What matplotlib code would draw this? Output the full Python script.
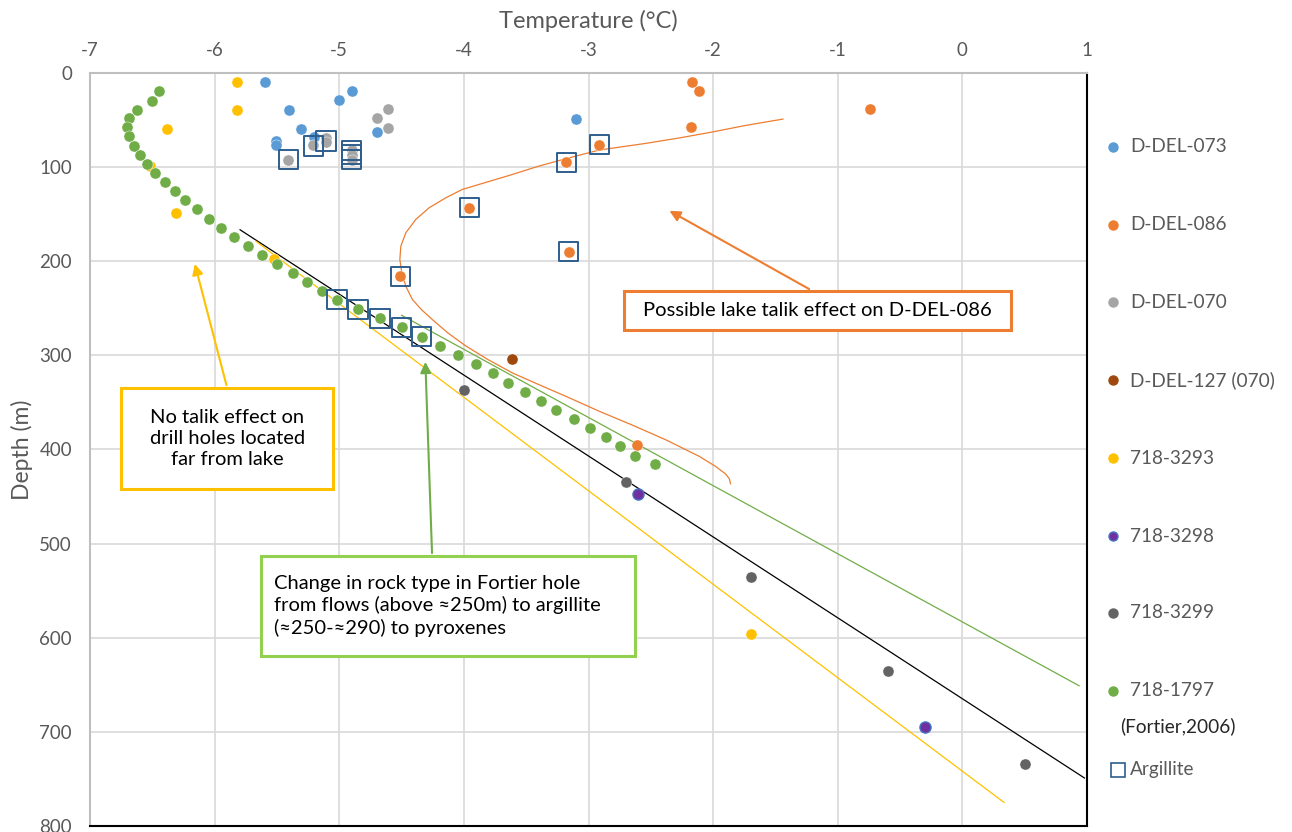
import matplotlib
matplotlib.use('Agg')
import matplotlib.pyplot as plt
from matplotlib.patches import Rectangle
from matplotlib.lines import Line2D

plt.rcParams['font.family'] = ['Lato', 'DejaVu Sans']
plt.rcParams['axes.unicode_minus'] = False

# ── data ─────────────────────────────────────────────────────────────────────
d073_t = [-5.6, -5.4, -5.31, -5.2, -5.51, -5.51, -5.0, -4.9, -4.7, -3.1]
d073_d = [10, 39, 59, 68, 72, 77, 29, 19.5, 63, 49]

d086_t = [-2.17, -2.11, -2.18, -0.74, -2.915, -3.18, -3.956, -3.16, -4.51, -2.61]
d086_d = [9.5, 19.5, 57, 38, 76, 95, 143, 190, 216, 395]

d070_t = [-5.41, -5.21, -5.11, -5.11, -4.9, -4.9, -4.9, -4.7, -4.61, -4.61]
d070_d = [92, 77, 69.5, 73, 82, 87, 92, 48, 38, 58]

d127_t = [-3.61]
d127_d = [304]

h3293_t = [-5.82, -5.82, -6.38, -6.52, -6.31, -5.52, -1.70]
h3293_d = [10, 39.6, 59.5, 99, 149, 198, 596]

h3298_t = [-2.60, -0.30]
h3298_d = [447, 695]

h3299_t = [-4.0, -2.70, -1.70, -0.60, 0.50]
h3299_d = [336.5, 435, 535, 635, 734]

h1797_t = [-6.449, -6.505, -6.62, -6.687, -6.706, -6.687, -6.649, -6.60, -6.54,
           -6.478, -6.40, -6.32, -6.238, -6.144, -6.045, -5.949, -5.847, -5.73,
           -5.62, -5.50, -5.373, -5.26, -5.14, -5.018, -4.85, -4.673, -4.50,
           -4.338, -4.194, -4.047, -3.90, -3.766, -3.648, -3.512, -3.384,
           -3.258, -3.12, -2.987, -2.856, -2.746, -2.629, -2.47]
h1797_d = [19.5, 29.4, 39, 48.2, 57.8, 67.3, 77.3, 87.2, 96.4, 106.4, 116, 125.5,
           135.4, 145, 154.9, 164.5, 174, 184, 193.6, 203, 212.7, 222.3, 231.5,
           240.7, 251, 260.6, 270, 280, 290, 299.6, 309.5, 319, 329, 338.6,
           348.2, 357.8, 367.7, 377.3, 387.2, 396.8, 406.4, 415.6]

argil_t = [-5.41, -5.21, -5.106, -4.9, -4.9, -4.9, -2.915, -3.18, -3.956, -3.16,
           -4.51, -5.018, -4.85, -4.673, -4.5, -4.338]
argil_d = [92, 77.6, 72.3, 82, 87, 92, 76, 95, 143, 190, 216, 240.7, 251,
           260.6, 270, 280]

# trend lines (end points) and the curved D-DEL-086 trend
trend_black_t = [-5.796, 0.98]
trend_black_d = [166.6, 749]
trend_yellow_t = [-5.67, 0.335]
trend_yellow_d = [178.7, 775]
trend_green_t = [-4.50, 0.937]
trend_green_d = [257.4, 651]
curve086_t = [-1.44, -1.75, -2.006, -2.27, -2.54, -2.915, -3.182, -3.40, -3.61,
              -3.878, -4.012, -4.145, -4.279, -4.386, -4.466, -4.506, -4.514,
              -4.498, -4.466, -4.413, -4.34, -4.253, -4.13, -3.985, -3.80,
              -3.61, -3.40, -3.18, -2.91, -2.65, -2.38, -2.11, -1.98, -1.90,
              -1.87, -1.86]
curve086_d = [49, 56, 62.7, 69, 74.8, 81.9, 91.1, 99, 107.8, 118.4, 123.7,
              132.6, 143.2, 155.6, 169.8, 184, 198.2, 212.3, 226.6, 240.7,
              251.5, 262, 276, 290, 305, 318.7, 331, 343.6, 359.6, 374, 389.7,
              407.4, 418, 426, 431, 436.5]

# ── colours ──────────────────────────────────────────────────────────────────
BLUE = '#5B9BD5'
ORANGE = '#ED7D31'
GRAY = '#A5A5A5'
BROWN = '#9E480E'
YELLOW = '#FFC000'
PURPLE = '#7030A0'
DGRAY = '#636363'
GREEN = '#70AD47'
BOXC = '#2E5E8E'
TXT = '#595959'

W, H = 1292, 832
fig = plt.figure(figsize=(12.92, 8.32), dpi=100)
ax = fig.add_axes([0.0697, 0.0072, 0.7716, 0.9051])

ax.set_xlim(-7, 1)
ax.set_ylim(800, 0)
ax.set_xticks(range(-7, 2))
ax.set_yticks(range(0, 801, 100))
ax.xaxis.tick_top()
ax.xaxis.set_label_position('top')
ax.tick_params(length=0, labelsize=13.5, colors=TXT, pad=10)
ax.tick_params(axis='y', pad=13)
ax.grid(True, color='#D9D9D9', lw=1.2)
ax.set_axisbelow(True)
ax.spines['top'].set_color('#BFBFBF')
ax.spines['left'].set_color('#BFBFBF')
ax.spines['top'].set_linewidth(1.5)
ax.spines['left'].set_linewidth(1.5)
ax.spines['bottom'].set_color('black')
ax.spines['right'].set_color('black')
ax.spines['bottom'].set_linewidth(1.5)
ax.spines['right'].set_linewidth(1.5)
ax.set_xlabel('Temperature (°C)', fontsize=17, color=TXT, labelpad=10)
fig.text(22 / W, 1 - 449.5 / H, 'Depth (m)', rotation=90, fontsize=16.5,
         color=TXT, ha='center', va='center')

# trend lines
ax.plot(trend_black_t, trend_black_d, color='black', lw=0.9, zorder=3)
ax.plot(trend_yellow_t, trend_yellow_d, color=YELLOW, lw=0.9, zorder=3)
ax.plot(trend_green_t, trend_green_d, color=GREEN, lw=0.9, zorder=3)
ax.plot(curve086_t, curve086_d, color=ORANGE, lw=0.9, zorder=3,
        solid_joinstyle='round')

S = 64
ax.scatter(d073_t, d073_d, s=S, color=BLUE, edgecolors='white', linewidths=0.3, zorder=4)
ax.scatter(d086_t, d086_d, s=S, color=ORANGE, edgecolors='white', linewidths=0.3, zorder=4)
ax.scatter(d070_t, d070_d, s=S, color=GRAY, edgecolors='white', linewidths=0.3, zorder=4)
ax.scatter(d127_t, d127_d, s=S, color=BROWN, edgecolors='white', linewidths=0.3, zorder=4)
ax.scatter(h3293_t, h3293_d, s=S, color=YELLOW, edgecolors='white', linewidths=0.3, zorder=4)
ax.scatter(h3298_t, h3298_d, s=S, color=PURPLE, edgecolors='#4472C4', linewidths=1.0, zorder=4)
ax.scatter(h3299_t, h3299_d, s=S, color=DGRAY, edgecolors='white', linewidths=0.3, zorder=4)
ax.scatter(h1797_t, h1797_d, s=S, color=GREEN, edgecolors='white', linewidths=0.3, zorder=5)
ax.scatter(argil_t, argil_d, s=190, marker='s', facecolors='none',
           edgecolors=BOXC, linewidths=1.4, zorder=6)

# ── annotation boxes ────────────────────────────────────────────────────────
def note_box(x0, x1, y0, y1, color, text, ha='center', tx=None):
    ax.add_patch(Rectangle((x0, y0), x1 - x0, y1 - y0, facecolor='white',
                           edgecolor=color, lw=2.2, zorder=8))
    xt = (x0 + x1) / 2 if tx is None else tx
    ax.text(xt, (y0 + y1) / 2, text, ha=ha, va='center', fontsize=14.5,
            color='black', linespacing=1.3, zorder=9)

# arrows
ax.annotate('', xy=(-2.37, 145), xytext=(-1.21, 231),
            arrowprops=dict(arrowstyle='-|>', color=ORANGE, lw=1.5,
                            mutation_scale=16), zorder=7)
ax.annotate('', xy=(-6.165, 200), xytext=(-5.9, 334.4),
            arrowprops=dict(arrowstyle='-|>', color=YELLOW, lw=1.5,
                            mutation_scale=16), zorder=7)
ax.annotate('', xy=(-4.31, 304), xytext=(-4.255, 513),
            arrowprops=dict(arrowstyle='-|>', color=GREEN, lw=1.5,
                            mutation_scale=16), zorder=7)

note_box(-2.714, 0.392, 231.2, 272.7, ORANGE,
         'Possible lake talik effect on D-DEL-086')
note_box(-6.751, -5.05, 334.4, 441.8, YELLOW,
         'No talik effect on\ndrill holes located\nfar from lake')
note_box(-5.628, -2.626, 513, 619.5, '#92D050',
         'Change in rock type in Fortier hole\nfrom flows (above ≈250m) to argillite\n(≈250-≈290) to pyroxenes',
         ha='left', tx=-5.52)

# ── legend (drawn by hand on the right) ─────────────────────────────────────
leg_labels = ['D-DEL-073', 'D-DEL-086', 'D-DEL-070', 'D-DEL-127 (070)',
              '718-3293', '718-3298', '718-3299', '718-1797']
leg_colors = [BLUE, ORANGE, GRAY, BROWN, YELLOW, PURPLE, DGRAY, GREEN]
leg_y = [147, 225, 302, 380, 458, 536, 613, 691]
for lab, col, yp in zip(leg_labels, leg_colors, leg_y):
    ec = '#4472C4' if col == PURPLE else col
    fig.add_artist(Line2D([1113 / W], [1 - yp / H], marker='o', ms=6.5,
                          color=col, mec=ec, ls='none', transform=fig.transFigure))
    fig.text(1130 / W, 1 - yp / H, lab, fontsize=13.7, color=TXT, va='center')
fig.text(1120 / W, 1 - 726 / H, '(Fortier,2006)', fontsize=13.7, color='#262626', va='center')
fig.add_artist(Line2D([1118 / W], [1 - 770 / H], marker='s', ms=10.5, mfc='none',
                      mec=BOXC, mew=1.2, ls='none', transform=fig.transFigure))
fig.text(1130 / W, 1 - 770 / H, 'Argillite', fontsize=13.7, color=TXT, va='center')

fig.savefig('out.png', dpi=100)
